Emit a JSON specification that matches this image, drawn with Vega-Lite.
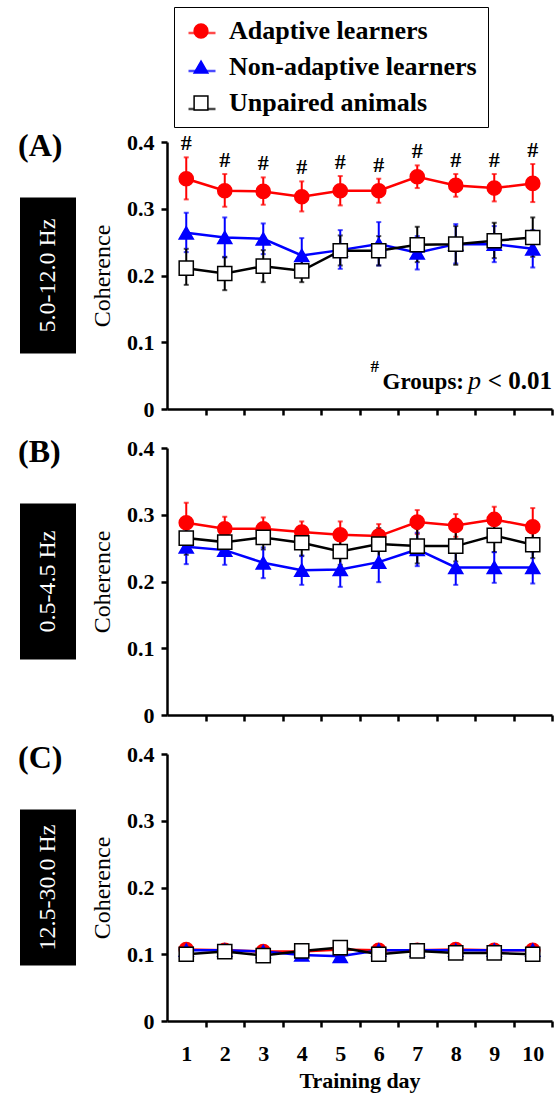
{
  "$schema": "https://vega.github.io/schema/vega-lite/v6.json",
  "padding": {"left": 18, "top": 6, "right": 2, "bottom": 4},
  "background": "white",
  "datasets": {
    "coh": [
      {"panel": "A", "group": "Adaptive learners", "day": 1, "mean": 0.345, "lo": 0.314, "hi": 0.377},
      {"panel": "A", "group": "Adaptive learners", "day": 2, "mean": 0.327, "lo": 0.303, "hi": 0.352},
      {"panel": "A", "group": "Adaptive learners", "day": 3, "mean": 0.326, "lo": 0.306, "hi": 0.347},
      {"panel": "A", "group": "Adaptive learners", "day": 4, "mean": 0.318, "lo": 0.296, "hi": 0.341},
      {"panel": "A", "group": "Adaptive learners", "day": 5, "mean": 0.327, "lo": 0.305, "hi": 0.349},
      {"panel": "A", "group": "Adaptive learners", "day": 6, "mean": 0.327, "lo": 0.309, "hi": 0.345},
      {"panel": "A", "group": "Adaptive learners", "day": 7, "mean": 0.348, "lo": 0.331, "hi": 0.365},
      {"panel": "A", "group": "Adaptive learners", "day": 8, "mean": 0.335, "lo": 0.318, "hi": 0.352},
      {"panel": "A", "group": "Adaptive learners", "day": 9, "mean": 0.331, "lo": 0.311, "hi": 0.352},
      {"panel": "A", "group": "Adaptive learners", "day": 10, "mean": 0.338, "lo": 0.310, "hi": 0.367},
      {"panel": "A", "group": "Non-adaptive learners", "day": 1, "mean": 0.264, "lo": 0.235, "hi": 0.294},
      {"panel": "A", "group": "Non-adaptive learners", "day": 2, "mean": 0.257, "lo": 0.227, "hi": 0.287},
      {"panel": "A", "group": "Non-adaptive learners", "day": 3, "mean": 0.255, "lo": 0.232, "hi": 0.278},
      {"panel": "A", "group": "Non-adaptive learners", "day": 4, "mean": 0.230, "lo": 0.205, "hi": 0.256},
      {"panel": "A", "group": "Non-adaptive learners", "day": 5, "mean": 0.238, "lo": 0.210, "hi": 0.268},
      {"panel": "A", "group": "Non-adaptive learners", "day": 6, "mean": 0.247, "lo": 0.215, "hi": 0.280},
      {"panel": "A", "group": "Non-adaptive learners", "day": 7, "mean": 0.234, "lo": 0.209, "hi": 0.259},
      {"panel": "A", "group": "Non-adaptive learners", "day": 8, "mean": 0.247, "lo": 0.218, "hi": 0.277},
      {"panel": "A", "group": "Non-adaptive learners", "day": 9, "mean": 0.247, "lo": 0.220, "hi": 0.274},
      {"panel": "A", "group": "Non-adaptive learners", "day": 10, "mean": 0.240, "lo": 0.212, "hi": 0.268},
      {"panel": "A", "group": "Unpaired animals", "day": 1, "mean": 0.211, "lo": 0.186, "hi": 0.240},
      {"panel": "A", "group": "Unpaired animals", "day": 2, "mean": 0.203, "lo": 0.178, "hi": 0.228},
      {"panel": "A", "group": "Unpaired animals", "day": 3, "mean": 0.214, "lo": 0.190, "hi": 0.238},
      {"panel": "A", "group": "Unpaired animals", "day": 4, "mean": 0.207, "lo": 0.190, "hi": 0.224},
      {"panel": "A", "group": "Unpaired animals", "day": 5, "mean": 0.237, "lo": 0.215, "hi": 0.260},
      {"panel": "A", "group": "Unpaired animals", "day": 6, "mean": 0.237, "lo": 0.215, "hi": 0.259},
      {"panel": "A", "group": "Unpaired animals", "day": 7, "mean": 0.246, "lo": 0.220, "hi": 0.273},
      {"panel": "A", "group": "Unpaired animals", "day": 8, "mean": 0.247, "lo": 0.216, "hi": 0.274},
      {"panel": "A", "group": "Unpaired animals", "day": 9, "mean": 0.252, "lo": 0.226, "hi": 0.279},
      {"panel": "A", "group": "Unpaired animals", "day": 10, "mean": 0.257, "lo": 0.228, "hi": 0.287},
      {"panel": "B", "group": "Adaptive learners", "day": 1, "mean": 0.288, "lo": 0.258, "hi": 0.318},
      {"panel": "B", "group": "Adaptive learners", "day": 2, "mean": 0.279, "lo": 0.261, "hi": 0.297},
      {"panel": "B", "group": "Adaptive learners", "day": 3, "mean": 0.279, "lo": 0.262, "hi": 0.296},
      {"panel": "B", "group": "Adaptive learners", "day": 4, "mean": 0.274, "lo": 0.258, "hi": 0.290},
      {"panel": "B", "group": "Adaptive learners", "day": 5, "mean": 0.270, "lo": 0.250, "hi": 0.290},
      {"panel": "B", "group": "Adaptive learners", "day": 6, "mean": 0.268, "lo": 0.250, "hi": 0.286},
      {"panel": "B", "group": "Adaptive learners", "day": 7, "mean": 0.289, "lo": 0.271, "hi": 0.307},
      {"panel": "B", "group": "Adaptive learners", "day": 8, "mean": 0.284, "lo": 0.267, "hi": 0.301},
      {"panel": "B", "group": "Adaptive learners", "day": 9, "mean": 0.293, "lo": 0.274, "hi": 0.312},
      {"panel": "B", "group": "Adaptive learners", "day": 10, "mean": 0.282, "lo": 0.254, "hi": 0.310},
      {"panel": "B", "group": "Non-adaptive learners", "day": 1, "mean": 0.252, "lo": 0.226, "hi": 0.278},
      {"panel": "B", "group": "Non-adaptive learners", "day": 2, "mean": 0.247, "lo": 0.225, "hi": 0.269},
      {"panel": "B", "group": "Non-adaptive learners", "day": 3, "mean": 0.228, "lo": 0.205, "hi": 0.251},
      {"panel": "B", "group": "Non-adaptive learners", "day": 4, "mean": 0.217, "lo": 0.195, "hi": 0.239},
      {"panel": "B", "group": "Non-adaptive learners", "day": 5, "mean": 0.218, "lo": 0.192, "hi": 0.244},
      {"panel": "B", "group": "Non-adaptive learners", "day": 6, "mean": 0.229, "lo": 0.199, "hi": 0.259},
      {"panel": "B", "group": "Non-adaptive learners", "day": 7, "mean": 0.248, "lo": 0.223, "hi": 0.273},
      {"panel": "B", "group": "Non-adaptive learners", "day": 8, "mean": 0.221, "lo": 0.195, "hi": 0.247},
      {"panel": "B", "group": "Non-adaptive learners", "day": 9, "mean": 0.221, "lo": 0.198, "hi": 0.244},
      {"panel": "B", "group": "Non-adaptive learners", "day": 10, "mean": 0.221, "lo": 0.197, "hi": 0.245},
      {"panel": "B", "group": "Unpaired animals", "day": 1, "mean": 0.265, "lo": 0.240, "hi": 0.290},
      {"panel": "B", "group": "Unpaired animals", "day": 2, "mean": 0.259, "lo": 0.240, "hi": 0.278},
      {"panel": "B", "group": "Unpaired animals", "day": 3, "mean": 0.266, "lo": 0.248, "hi": 0.284},
      {"panel": "B", "group": "Unpaired animals", "day": 4, "mean": 0.258, "lo": 0.238, "hi": 0.278},
      {"panel": "B", "group": "Unpaired animals", "day": 5, "mean": 0.245, "lo": 0.225, "hi": 0.265},
      {"panel": "B", "group": "Unpaired animals", "day": 6, "mean": 0.256, "lo": 0.232, "hi": 0.280},
      {"panel": "B", "group": "Unpaired animals", "day": 7, "mean": 0.253, "lo": 0.227, "hi": 0.279},
      {"panel": "B", "group": "Unpaired animals", "day": 8, "mean": 0.253, "lo": 0.230, "hi": 0.276},
      {"panel": "B", "group": "Unpaired animals", "day": 9, "mean": 0.269, "lo": 0.244, "hi": 0.294},
      {"panel": "B", "group": "Unpaired animals", "day": 10, "mean": 0.255, "lo": 0.235, "hi": 0.275},
      {"panel": "C", "group": "Adaptive learners", "day": 1, "mean": 0.107, "lo": 0.104, "hi": 0.110},
      {"panel": "C", "group": "Adaptive learners", "day": 2, "mean": 0.106, "lo": 0.103, "hi": 0.109},
      {"panel": "C", "group": "Adaptive learners", "day": 3, "mean": 0.104, "lo": 0.101, "hi": 0.107},
      {"panel": "C", "group": "Adaptive learners", "day": 4, "mean": 0.104, "lo": 0.101, "hi": 0.107},
      {"panel": "C", "group": "Adaptive learners", "day": 5, "mean": 0.107, "lo": 0.104, "hi": 0.110},
      {"panel": "C", "group": "Adaptive learners", "day": 6, "mean": 0.106, "lo": 0.103, "hi": 0.109},
      {"panel": "C", "group": "Adaptive learners", "day": 7, "mean": 0.106, "lo": 0.103, "hi": 0.109},
      {"panel": "C", "group": "Adaptive learners", "day": 8, "mean": 0.107, "lo": 0.104, "hi": 0.110},
      {"panel": "C", "group": "Adaptive learners", "day": 9, "mean": 0.106, "lo": 0.103, "hi": 0.109},
      {"panel": "C", "group": "Adaptive learners", "day": 10, "mean": 0.106, "lo": 0.103, "hi": 0.109},
      {"panel": "C", "group": "Non-adaptive learners", "day": 1, "mean": 0.106, "lo": 0.103, "hi": 0.109},
      {"panel": "C", "group": "Non-adaptive learners", "day": 2, "mean": 0.106, "lo": 0.103, "hi": 0.109},
      {"panel": "C", "group": "Non-adaptive learners", "day": 3, "mean": 0.104, "lo": 0.101, "hi": 0.107},
      {"panel": "C", "group": "Non-adaptive learners", "day": 4, "mean": 0.099, "lo": 0.096, "hi": 0.102},
      {"panel": "C", "group": "Non-adaptive learners", "day": 5, "mean": 0.097, "lo": 0.094, "hi": 0.100},
      {"panel": "C", "group": "Non-adaptive learners", "day": 6, "mean": 0.106, "lo": 0.103, "hi": 0.109},
      {"panel": "C", "group": "Non-adaptive learners", "day": 7, "mean": 0.106, "lo": 0.103, "hi": 0.109},
      {"panel": "C", "group": "Non-adaptive learners", "day": 8, "mean": 0.106, "lo": 0.103, "hi": 0.109},
      {"panel": "C", "group": "Non-adaptive learners", "day": 9, "mean": 0.106, "lo": 0.103, "hi": 0.109},
      {"panel": "C", "group": "Non-adaptive learners", "day": 10, "mean": 0.106, "lo": 0.103, "hi": 0.109},
      {"panel": "C", "group": "Unpaired animals", "day": 1, "mean": 0.100, "lo": 0.097, "hi": 0.103},
      {"panel": "C", "group": "Unpaired animals", "day": 2, "mean": 0.104, "lo": 0.101, "hi": 0.107},
      {"panel": "C", "group": "Unpaired animals", "day": 3, "mean": 0.098, "lo": 0.095, "hi": 0.101},
      {"panel": "C", "group": "Unpaired animals", "day": 4, "mean": 0.105, "lo": 0.102, "hi": 0.108},
      {"panel": "C", "group": "Unpaired animals", "day": 5, "mean": 0.110, "lo": 0.107, "hi": 0.113},
      {"panel": "C", "group": "Unpaired animals", "day": 6, "mean": 0.100, "lo": 0.097, "hi": 0.103},
      {"panel": "C", "group": "Unpaired animals", "day": 7, "mean": 0.105, "lo": 0.102, "hi": 0.108},
      {"panel": "C", "group": "Unpaired animals", "day": 8, "mean": 0.102, "lo": 0.099, "hi": 0.105},
      {"panel": "C", "group": "Unpaired animals", "day": 9, "mean": 0.102, "lo": 0.099, "hi": 0.105},
      {"panel": "C", "group": "Unpaired animals", "day": 10, "mean": 0.100, "lo": 0.097, "hi": 0.103}
    ]
  },
  "spacing": 15,
  "vconcat": [
    {
      "spacing": 91, "bounds": "flush", "center": true,
      "hconcat": [
        {
          "width": 56, "height": 156,
          "view": {"fill": "black", "stroke": null},
          "data": {"values": [{"band": "5.0-12.0 Hz"}]},
          "title": {"text": "(A)", "anchor": "start", "offset": 35, "dx": -2, "font": "Liberation Serif", "fontSize": 32, "fontWeight": "bold", "color": "black"},
          "mark": {"type": "text", "angle": 270, "color": "white", "font": "Liberation Serif", "fontSize": 24, "align": "center", "baseline": "middle"},
          "encoding": {"text": {"field": "band", "type": "nominal"}}
        },
        {
          "width": 385, "height": 267,
          "data": {"name": "coh"},
          "transform": [{"filter": "datum.panel == 'A'"}],
          "layer": [
            {
              "mark": {"type": "line", "strokeWidth": 2.5},
              "encoding": {
                "x": {"field": "day", "type": "quantitative", "title": null, "scale": {"domain": [0.5, 10.5], "nice": false}, "axis": {"values": [1,2,3,4,5,6,7,8,9,10], "labels": false, "tickOffset": 19.25, "labelOffset": -19.25}},
                "y": {"field": "mean", "type": "quantitative", "title": "Coherence", "scale": {"domain": [0, 0.4], "nice": false}, "axis": {"values": [0, 0.1, 0.2, 0.3, 0.4], "format": "~g"}},
                "color": {"field": "group", "type": "nominal", "scale": {"domain": ["Adaptive learners", "Non-adaptive learners", "Unpaired animals"], "range": ["#ff0000", "#0000ff", "#000000"]},
                  "legend": {"orient": "none", "legendX": 156, "legendY": -135, "title": null, "symbolType": "stroke", "symbolStrokeWidth": 2.5, "symbolSize": 729, "labelExpr": "''", "labelFont": "Liberation Serif", "labelFontSize": 26, "labelFontWeight": "bold", "padding": 11, "rowPadding": 10}}
              }
            },
            {
              "mark": {"type": "errorbar", "ticks": true, "thickness": 2},
              "encoding": {
                "x": {"field": "day", "type": "quantitative", "title": null},
                "y": {"field": "lo", "type": "quantitative", "title": "Coherence"},
                "y2": {"field": "hi"},
                "color": {"field": "group", "type": "nominal",
                  "legend": {"orient": "none", "legendX": 156, "legendY": -135, "title": null, "symbolType": "stroke", "symbolStrokeWidth": 2.5, "symbolSize": 729, "labelExpr": "''", "labelFont": "Liberation Serif", "labelFontSize": 26, "labelFontWeight": "bold", "padding": 11, "rowPadding": 10}}
              }
            },
            {
              "mark": {"type": "point", "filled": true, "opacity": 1, "size": 200, "strokeWidth": 1.5},
              "encoding": {
                "x": {"field": "day", "type": "quantitative", "title": null},
                "y": {"field": "mean", "type": "quantitative", "title": "Coherence"},
                "shape": {"field": "group", "type": "nominal", "scale": {"range": ["circle", "triangle-up", "square"]},
                  "legend": {"orient": "none", "legendX": 154, "legendY": -135, "title": null, "strokeColor": "black", "padding": 11, "rowPadding": 10, "symbolSize": 190, "symbolStrokeWidth": 1.5, "symbolOffset": 3, "labelOffset": 15, "labelLimit": 400, "labelFont": "Liberation Serif", "labelFontSize": 26, "labelFontWeight": "bold", "labelColor": "black"}},
                "fill": {"field": "group", "type": "nominal", "scale": {"range": ["#ff0000", "#0000ff", "#ffffff"]},
                  "legend": {"orient": "none", "legendX": 154, "legendY": -135, "title": null, "strokeColor": "black", "padding": 11, "rowPadding": 10, "symbolSize": 190, "symbolStrokeWidth": 1.5, "symbolOffset": 3, "labelOffset": 15, "labelLimit": 400, "labelFont": "Liberation Serif", "labelFontSize": 26, "labelFontWeight": "bold", "labelColor": "black"}},
                "stroke": {"field": "group", "type": "nominal", "scale": {"range": ["#ff0000", "#0000ff", "#000000"]},
                  "legend": {"orient": "none", "legendX": 154, "legendY": -135, "title": null, "strokeColor": "black", "padding": 11, "rowPadding": 10, "symbolSize": 190, "symbolStrokeWidth": 1.5, "symbolOffset": 3, "labelOffset": 15, "labelLimit": 400, "labelFont": "Liberation Serif", "labelFontSize": 26, "labelFontWeight": "bold", "labelColor": "black"}}
              }
            },
            {
              "transform": [{"filter": "datum.group == 'Adaptive learners'"}],
              "mark": {"type": "text", "text": "#", "font": "Liberation Serif", "fontSize": 22, "fontWeight": "bold", "baseline": "alphabetic", "dy": -7, "color": "black"},
              "encoding": {
                "x": {"field": "day", "type": "quantitative", "title": null},
                "y": {"field": "hi", "type": "quantitative", "title": "Coherence"}
              }
            },
            {
              "data": {"values": [{}]},
              "mark": {"type": "text", "text": "< 0.01", "font": "Liberation Serif", "fontSize": 25, "fontWeight": "bold", "align": "right", "baseline": "alphabetic", "color": "black"},
              "encoding": {"x": {"datum": 10.5, "type": "quantitative"}, "y": {"datum": 0.03, "type": "quantitative"}}
            },
            {
              "data": {"values": [{}]},
              "mark": {"type": "text", "text": "p", "font": "Liberation Serif", "fontSize": 26, "fontStyle": "italic", "align": "right", "baseline": "alphabetic", "dx": -71, "color": "black"},
              "encoding": {"x": {"datum": 10.5, "type": "quantitative"}, "y": {"datum": 0.03, "type": "quantitative"}}
            },
            {
              "data": {"values": [{}]},
              "mark": {"type": "text", "text": "Groups:", "font": "Liberation Serif", "fontSize": 23, "fontWeight": "bold", "align": "right", "baseline": "alphabetic", "dx": -88, "color": "black"},
              "encoding": {"x": {"datum": 10.5, "type": "quantitative"}, "y": {"datum": 0.03, "type": "quantitative"}}
            },
            {
              "data": {"values": [{}]},
              "mark": {"type": "text", "text": "#", "font": "Liberation Serif", "fontSize": 17, "fontWeight": "bold", "align": "right", "baseline": "alphabetic", "dx": -173, "dy": -17, "color": "black"},
              "encoding": {"x": {"datum": 10.5, "type": "quantitative"}, "y": {"datum": 0.03, "type": "quantitative"}}
            }
          ]
        }
      ]
    },
    {
      "spacing": 91, "bounds": "flush", "center": true,
      "hconcat": [
        {
          "width": 56, "height": 156,
          "view": {"fill": "black", "stroke": null},
          "data": {"values": [{"band": "0.5-4.5 Hz"}]},
          "title": {"text": "(B)", "anchor": "start", "offset": 35, "dx": -2, "font": "Liberation Serif", "fontSize": 32, "fontWeight": "bold", "color": "black"},
          "mark": {"type": "text", "angle": 270, "color": "white", "font": "Liberation Serif", "fontSize": 24, "align": "center", "baseline": "middle"},
          "encoding": {"text": {"field": "band", "type": "nominal"}}
        },
        {
          "width": 385, "height": 267,
          "data": {"name": "coh"},
          "transform": [{"filter": "datum.panel == 'B'"}],
          "layer": [
            {
              "mark": {"type": "line", "strokeWidth": 2.5},
              "encoding": {
                "x": {"field": "day", "type": "quantitative", "title": null, "scale": {"domain": [0.5, 10.5], "nice": false}, "axis": {"values": [1,2,3,4,5,6,7,8,9,10], "labels": false, "tickOffset": 19.25, "labelOffset": -19.25}},
                "y": {"field": "mean", "type": "quantitative", "title": "Coherence", "scale": {"domain": [0, 0.4], "nice": false}, "axis": {"values": [0, 0.1, 0.2, 0.3, 0.4], "format": "~g"}},
                "color": {"field": "group", "type": "nominal", "scale": {"domain": ["Adaptive learners", "Non-adaptive learners", "Unpaired animals"], "range": ["#ff0000", "#0000ff", "#000000"]},
                  "legend": {"orient": "none", "legendX": 156, "legendY": -135, "title": null, "symbolType": "stroke", "symbolStrokeWidth": 2.5, "symbolSize": 729, "labelExpr": "''", "labelFont": "Liberation Serif", "labelFontSize": 26, "labelFontWeight": "bold", "padding": 11, "rowPadding": 10}}
              }
            },
            {
              "mark": {"type": "errorbar", "ticks": true, "thickness": 2},
              "encoding": {
                "x": {"field": "day", "type": "quantitative", "title": null},
                "y": {"field": "lo", "type": "quantitative", "title": "Coherence"},
                "y2": {"field": "hi"},
                "color": {"field": "group", "type": "nominal",
                  "legend": {"orient": "none", "legendX": 156, "legendY": -135, "title": null, "symbolType": "stroke", "symbolStrokeWidth": 2.5, "symbolSize": 729, "labelExpr": "''", "labelFont": "Liberation Serif", "labelFontSize": 26, "labelFontWeight": "bold", "padding": 11, "rowPadding": 10}}
              }
            },
            {
              "mark": {"type": "point", "filled": true, "opacity": 1, "size": 200, "strokeWidth": 1.5},
              "encoding": {
                "x": {"field": "day", "type": "quantitative", "title": null},
                "y": {"field": "mean", "type": "quantitative", "title": "Coherence"},
                "shape": {"field": "group", "type": "nominal", "scale": {"range": ["circle", "triangle-up", "square"]},
                  "legend": {"orient": "none", "legendX": 154, "legendY": -135, "title": null, "strokeColor": "black", "padding": 11, "rowPadding": 10, "symbolSize": 190, "symbolStrokeWidth": 1.5, "symbolOffset": 3, "labelOffset": 15, "labelLimit": 400, "labelFont": "Liberation Serif", "labelFontSize": 26, "labelFontWeight": "bold", "labelColor": "black"}},
                "fill": {"field": "group", "type": "nominal", "scale": {"range": ["#ff0000", "#0000ff", "#ffffff"]},
                  "legend": {"orient": "none", "legendX": 154, "legendY": -135, "title": null, "strokeColor": "black", "padding": 11, "rowPadding": 10, "symbolSize": 190, "symbolStrokeWidth": 1.5, "symbolOffset": 3, "labelOffset": 15, "labelLimit": 400, "labelFont": "Liberation Serif", "labelFontSize": 26, "labelFontWeight": "bold", "labelColor": "black"}},
                "stroke": {"field": "group", "type": "nominal", "scale": {"range": ["#ff0000", "#0000ff", "#000000"]},
                  "legend": {"orient": "none", "legendX": 154, "legendY": -135, "title": null, "strokeColor": "black", "padding": 11, "rowPadding": 10, "symbolSize": 190, "symbolStrokeWidth": 1.5, "symbolOffset": 3, "labelOffset": 15, "labelLimit": 400, "labelFont": "Liberation Serif", "labelFontSize": 26, "labelFontWeight": "bold", "labelColor": "black"}}
              }
            }
          ]
        }
      ]
    },
    {
      "spacing": 91, "bounds": "flush", "center": true,
      "hconcat": [
        {
          "width": 56, "height": 156,
          "view": {"fill": "black", "stroke": null},
          "data": {"values": [{"band": "12.5-30.0 Hz"}]},
          "title": {"text": "(C)", "anchor": "start", "offset": 35, "dx": -2, "font": "Liberation Serif", "fontSize": 32, "fontWeight": "bold", "color": "black"},
          "mark": {"type": "text", "angle": 270, "color": "white", "font": "Liberation Serif", "fontSize": 24, "align": "center", "baseline": "middle"},
          "encoding": {"text": {"field": "band", "type": "nominal"}}
        },
        {
          "width": 385, "height": 267,
          "data": {"name": "coh"},
          "transform": [{"filter": "datum.panel == 'C'"}],
          "layer": [
            {
              "mark": {"type": "line", "strokeWidth": 2.5},
              "encoding": {
                "x": {"field": "day", "type": "quantitative", "title": "Training day", "scale": {"domain": [0.5, 10.5], "nice": false}, "axis": {"values": [1,2,3,4,5,6,7,8,9,10], "labels": true, "tickOffset": 19.25, "labelOffset": -19.25}},
                "y": {"field": "mean", "type": "quantitative", "title": "Coherence", "scale": {"domain": [0, 0.4], "nice": false}, "axis": {"values": [0, 0.1, 0.2, 0.3, 0.4], "format": "~g"}},
                "color": {"field": "group", "type": "nominal", "scale": {"domain": ["Adaptive learners", "Non-adaptive learners", "Unpaired animals"], "range": ["#ff0000", "#0000ff", "#000000"]},
                  "legend": {"orient": "none", "legendX": 156, "legendY": -135, "title": null, "symbolType": "stroke", "symbolStrokeWidth": 2.5, "symbolSize": 729, "labelExpr": "''", "labelFont": "Liberation Serif", "labelFontSize": 26, "labelFontWeight": "bold", "padding": 11, "rowPadding": 10}}
              }
            },
            {
              "mark": {"type": "errorbar", "ticks": true, "thickness": 2},
              "encoding": {
                "x": {"field": "day", "type": "quantitative", "title": "Training day"},
                "y": {"field": "lo", "type": "quantitative", "title": "Coherence"},
                "y2": {"field": "hi"},
                "color": {"field": "group", "type": "nominal",
                  "legend": {"orient": "none", "legendX": 156, "legendY": -135, "title": null, "symbolType": "stroke", "symbolStrokeWidth": 2.5, "symbolSize": 729, "labelExpr": "''", "labelFont": "Liberation Serif", "labelFontSize": 26, "labelFontWeight": "bold", "padding": 11, "rowPadding": 10}}
              }
            },
            {
              "mark": {"type": "point", "filled": true, "opacity": 1, "size": 200, "strokeWidth": 1.5},
              "encoding": {
                "x": {"field": "day", "type": "quantitative", "title": "Training day"},
                "y": {"field": "mean", "type": "quantitative", "title": "Coherence"},
                "shape": {"field": "group", "type": "nominal", "scale": {"range": ["circle", "triangle-up", "square"]},
                  "legend": {"orient": "none", "legendX": 154, "legendY": -135, "title": null, "strokeColor": "black", "padding": 11, "rowPadding": 10, "symbolSize": 190, "symbolStrokeWidth": 1.5, "symbolOffset": 3, "labelOffset": 15, "labelLimit": 400, "labelFont": "Liberation Serif", "labelFontSize": 26, "labelFontWeight": "bold", "labelColor": "black"}},
                "fill": {"field": "group", "type": "nominal", "scale": {"range": ["#ff0000", "#0000ff", "#ffffff"]},
                  "legend": {"orient": "none", "legendX": 154, "legendY": -135, "title": null, "strokeColor": "black", "padding": 11, "rowPadding": 10, "symbolSize": 190, "symbolStrokeWidth": 1.5, "symbolOffset": 3, "labelOffset": 15, "labelLimit": 400, "labelFont": "Liberation Serif", "labelFontSize": 26, "labelFontWeight": "bold", "labelColor": "black"}},
                "stroke": {"field": "group", "type": "nominal", "scale": {"range": ["#ff0000", "#0000ff", "#000000"]},
                  "legend": {"orient": "none", "legendX": 154, "legendY": -135, "title": null, "strokeColor": "black", "padding": 11, "rowPadding": 10, "symbolSize": 190, "symbolStrokeWidth": 1.5, "symbolOffset": 3, "labelOffset": 15, "labelLimit": 400, "labelFont": "Liberation Serif", "labelFontSize": 26, "labelFontWeight": "bold", "labelColor": "black"}}
              }
            }
          ]
        }
      ]
    }
  ],
  "config": {
    "view": {"stroke": null},
    "axis": {"grid": false, "domainColor": "black", "tickColor": "black", "domainWidth": 2.5, "tickWidth": 2.5, "tickSize": 6, "labelColor": "black", "labelFont": "Liberation Serif", "labelFontWeight": "bold", "labelFontSize": 22, "labelFlush": false, "titleColor": "black", "titleFont": "Liberation Serif", "titleFontSize": 22},
    "axisY": {"titleFontWeight": "normal", "titleFontSize": 24, "labelPadding": 7, "titlePadding": 12},
    "axisX": {"titleFontWeight": "bold", "labelPadding": 16, "titlePadding": 6}
  }
}
